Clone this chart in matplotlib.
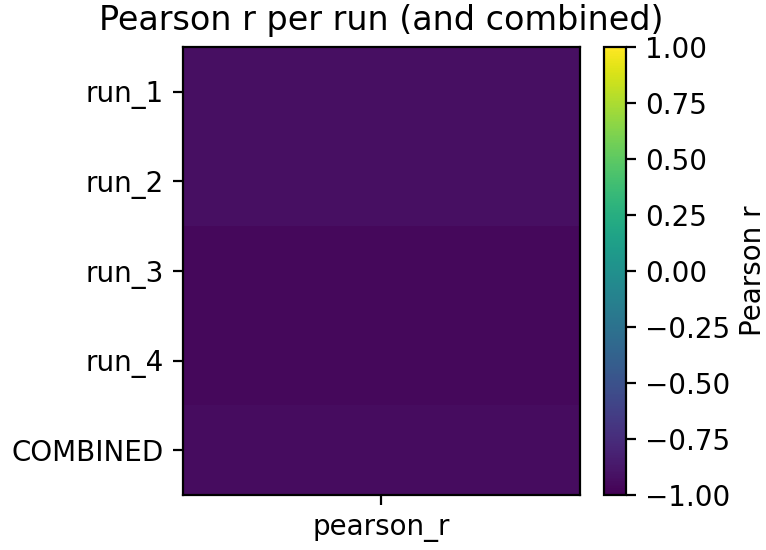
import numpy as np
import matplotlib
matplotlib.use("Agg")
import matplotlib.pyplot as plt

# ---- data ----
runs = ["run_1", "run_2", "run_3", "run_4", "COMBINED"]
metric = ["pearson_r"]
pearson_r = [-0.92, -0.92, -0.96, -0.96, -0.93]

data = np.array(pearson_r).reshape(-1, 1)

DPI = 200
fig = plt.figure(figsize=(766 / DPI, 550 / DPI), dpi=DPI)
ax = fig.add_axes([0.239, 0.1, 0.518, 0.8145])
cax = fig.add_axes([0.7885, 0.1, 0.0285, 0.8145])

im = ax.imshow(data, cmap="viridis", vmin=-1, vmax=1, aspect="auto")
ax.set_yticks(range(len(runs)))
ax.set_yticklabels(runs)
ax.set_xticks(range(len(metric)))
ax.set_xticklabels(metric)
ax.set_title("Pearson r per run (and combined)")

cb = fig.colorbar(im, cax=cax)
cb.set_label("Pearson r", labelpad=3.2)

fig.savefig("out.png", dpi=DPI)
